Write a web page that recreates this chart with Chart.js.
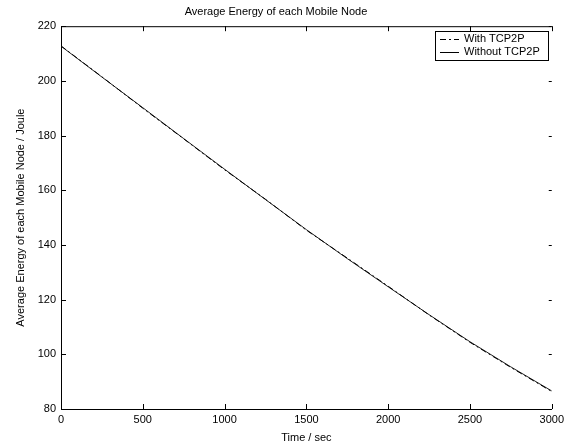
<!DOCTYPE html>
<html>
<head>
<meta charset="utf-8">
<script src="https://cdn.jsdelivr.net/npm/chart.js@4.4.1/dist/chart.umd.min.js"></script>
<style>
  html, body { margin: 0; padding: 0; background: #fff; }
  #wrap { width: 568px; height: 446px; }
</style>
</head>
<body>
<div id="wrap"><canvas id="grafico"></canvas></div>
<script>
// valores (tempo em segundos, energia em Joule)
const tempos = [0, 250, 500, 750, 1000, 1250, 1500, 1750, 2000, 2250, 2500, 2750, 3000];
const comTCP2P = [212.8, 201.5, 190.0, 178.8, 167.5, 156.7, 145.4, 135.2, 124.9, 114.4, 104.4, 95.2, 86.4];
const semTCP2P = [212.7, 201.4, 190.2, 178.9, 167.7, 156.6, 145.6, 135.0, 124.7, 114.5, 104.6, 95.4, 86.6];
const rotulos = ['With TCP2P', 'Without TCP2P'];
const ticksX = [0, 500, 1000, 1500, 2000, 2500, 3000];
const ticksY = [80, 100, 120, 140, 160, 180, 200, 220];

const fonte = "'Liberation Sans', Arial, Helvetica, sans-serif";

// moldura estilo MATLAB: linha de cima + marcas de escala para dentro
const moldura = {
  id: 'moldura',
  afterDatasetsDraw(chart) {
    const { ctx, chartArea: a, scales } = chart;
    ctx.save();
    ctx.strokeStyle = '#000';
    ctx.lineWidth = 1;
    ctx.beginPath();
    ctx.moveTo(a.left, a.top + 0.5);
    ctx.lineTo(a.right, a.top + 0.5);
    const t = 5;
    ticksX.forEach(v => {
      const x = Math.round(scales.x.getPixelForValue(v)) + 0.5;
      ctx.moveTo(x, a.bottom); ctx.lineTo(x, a.bottom - t);
      ctx.moveTo(x, a.top); ctx.lineTo(x, a.top + t);
    });
    ticksY.forEach(v => {
      const y = Math.round(scales.y.getPixelForValue(v)) + 0.5;
      ctx.moveTo(a.left, y); ctx.lineTo(a.left + t, y);
      ctx.moveTo(a.right, y); ctx.lineTo(a.right - 3, y);
    });
    ctx.stroke();

    // legenda com caixa
    const lx = 435, ly = 31, lw = 113, lh = 29;
    ctx.fillStyle = '#fff';
    ctx.fillRect(lx, ly, lw, lh);
    ctx.strokeRect(lx + 0.5, ly + 0.5, lw, lh);
    ctx.font = '11px ' + fonte;
    ctx.textBaseline = 'middle';
    chart.data.datasets.forEach((ds, i) => {
      const yy = ly + 8 + i * 13;
      ctx.setLineDash(ds.borderDash || []);
      ctx.beginPath();
      ctx.moveTo(lx + 5, yy + 0.5);
      ctx.lineTo(lx + 24, yy + 0.5);
      ctx.stroke();
      ctx.setLineDash([]);
      ctx.fillStyle = '#000';
      ctx.fillText(ds.label, lx + 29, yy);
    });
    ctx.restore();
  }
};

new Chart(document.getElementById('grafico').getContext('2d'), {
  type: 'line',
  data: {
    labels: tempos,
    datasets: [{
      label: rotulos[0],
      data: tempos.map((t, i) => ({ x: t, y: comTCP2P[i] })),
      borderColor: '#000',
      borderWidth: 1,
      borderDash: [6, 3, 2, 3],
      pointRadius: 0,
      tension: 0
    }, {
      label: rotulos[1],
      data: tempos.map((t, i) => ({ x: t, y: semTCP2P[i] })),
      borderColor: '#222',
      borderWidth: 1,
      pointRadius: 0,
      tension: 0
    }]
  },
  plugins: [moldura],
  options: {
    responsive: true,
    maintainAspectRatio: false,
    animation: false,
    layout: { padding: { top: 0, right: 16, bottom: 0, left: 0 } },
    plugins: {
      legend: { display: false },
      tooltip: { enabled: false },
      title: {
        display: true,
        text: 'Average Energy of each Mobile Node',
        color: '#000',
        font: { family: fonte, size: 11, weight: 'normal' },
        padding: { top: 5, bottom: 8 }
      }
    },
    scales: {
      x: {
        type: 'linear',
        min: 0, max: 3000,
        afterFit: s => { s.height = 37; },
        afterBuildTicks: s => { s.ticks = ticksX.map(v => ({ value: v })); },
        grid: { display: false, drawTicks: false },
        border: { display: true, color: '#000', width: 1 },
        ticks: {
          color: '#000', padding: 4, font: { family: fonte, size: 11 }, maxRotation: 0,
          callback: v => String(v)
        },
        title: {
          display: true, text: 'Time / sec', color: '#000',
          font: { family: fonte, size: 11 }, padding: { top: 0, bottom: 1 }
        }
      },
      y: {
        min: 80, max: 220,
        afterFit: s => { s.width = 61; },
        afterBuildTicks: s => { s.ticks = ticksY.map(v => ({ value: v })); },
        grid: { display: false, drawTicks: false },
        border: { display: true, color: '#000', width: 1 },
        ticks: { color: '#000', padding: 5, font: { family: fonte, size: 11 } },
        title: {
          display: true, text: 'Average Energy of each Mobile Node / Joule', color: '#000',
          font: { family: fonte, size: 11 }, padding: { top: 14, bottom: 0 }
        }
      }
    }
  }
});
</script>
</body>
</html>
